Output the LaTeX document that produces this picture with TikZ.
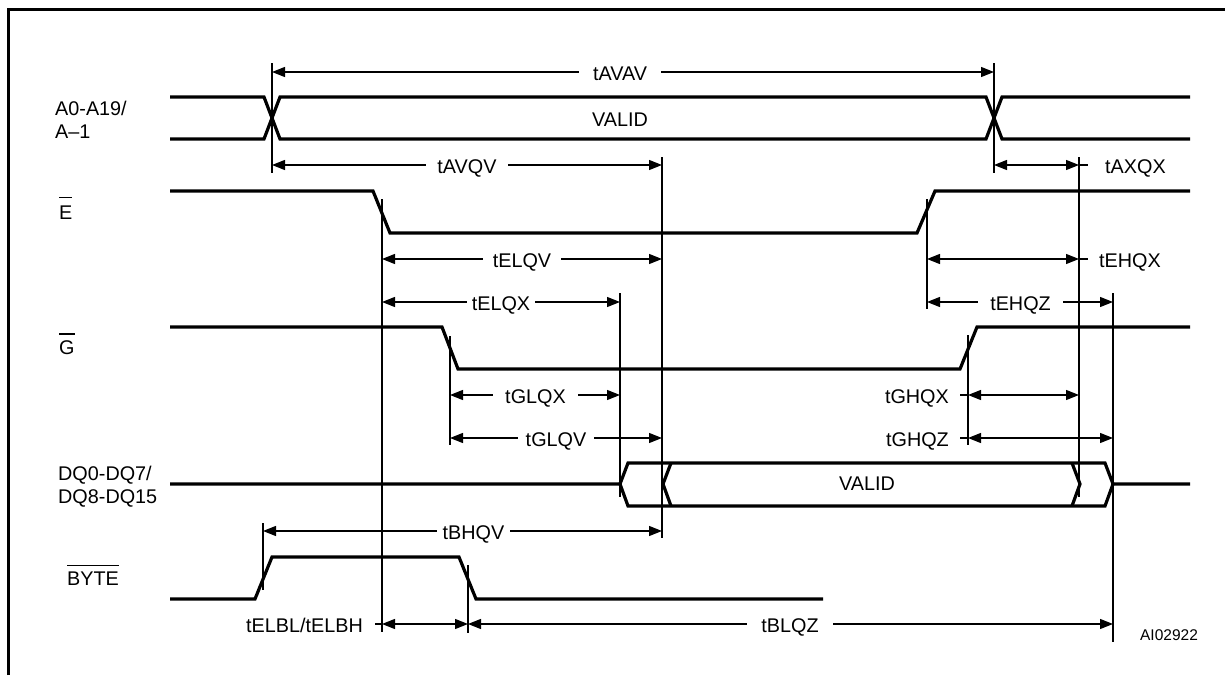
\documentclass[tikz,border=0pt]{standalone}
\usepackage{fontspec}
\setmainfont{Liberation Sans}
\usetikzlibrary{arrows.meta}
\newcommand\ovbar[2]{\vbox{\hrule height 1.4pt\kern #1\hbox{#2}}}
\begin{document}
\begin{tikzpicture}[x=1pt,y=-1pt,
  sig/.style={line width=3.2pt, line join=miter, line cap=butt},
  ext/.style={line width=1.3pt},
  dimline/.style={line width=1.3pt, {Triangle[length=13pt,width=10pt]}-{Triangle[length=13pt,width=10pt]}},
  txt/.style={font=\fontsize{19.8}{23}\selectfont, inner sep=0pt},
  dlbl/.style={txt, fill=white, inner xsep=10pt, inner ysep=1.5pt, text height=14.2pt, text depth=0pt, yshift=-1pt},
  slbl/.style={txt, text height=14.2pt, text depth=0pt, yshift=-1pt},
]
\useasboundingbox (0,0) rectangle (1225,675);
% frame
\draw[line width=3pt] (8.5,675) -- (8.5,9.5) -- (1225,9.5);

% time reference lines
\draw[ext] (272,63) -- (272,173);
\draw[ext] (994,63) -- (994,173);
\draw[ext] (662,157) -- (662,538);
\draw[ext] (1079,157) -- (1079,497);
\draw[ext] (382,199) -- (382,632);
\draw[ext] (927,199) -- (927,309);
\draw[ext] (620,293) -- (620,497);
\draw[ext] (1113,293) -- (1113,642);
\draw[ext] (450,336) -- (450,445);
\draw[ext] (968,335) -- (968,445);
\draw[ext] (263,523) -- (263,590);
\draw[ext] (468,565) -- (468,633);

% signal names
\node[txt, anchor=base west] (nA1) at (55,115) {A0-A19/};
\node[txt, anchor=base west] (nA2) at (55,138) {A–1};
\node[txt, anchor=base west] (nE) at (59,219) {\ovbar{7pt}{E}};
\node[txt, anchor=base west] (nG) at (59,354.5) {\ovbar{6pt}{G}};
\node[txt, anchor=base west] (nD1) at (58,480) {DQ0-DQ7/};
\node[txt, anchor=base west] (nD2) at (58,503) {DQ8-DQ15};
\node[txt, anchor=base west] (nB) at (67,585) {\ovbar{5pt}{BYTE}};

% address
\draw[sig] (170,97) -- (264,97) -- (280,139) -- (986,139) -- (1002,97) -- (1190,97);
\draw[sig] (170,139) -- (264,139) -- (280,97) -- (986,97) -- (1002,139) -- (1190,139);
\node[txt, anchor=base] (va) at (620,126.5) {VALID};
% E
\draw[sig] (170,191) -- (373,191) -- (390,233) -- (917,233) -- (935,191) -- (1190,191);
% G
\draw[sig] (170,327) -- (442,327) -- (458,369) -- (960,369) -- (977,327) -- (1190,327);
% DQ
\draw[sig] (170,484) -- (620,484) -- (628,463) -- (1105,463) -- (1113,484) -- (1190,484);
\draw[sig] (620,484) -- (628,506) -- (1105,506) -- (1113,484);
\draw[sig] (671,463) -- (663,484) -- (671,506);
\draw[sig] (1072,463) -- (1080,484) -- (1072,506);
\node[txt, anchor=base] (vd) at (867,490.5) {VALID};
% BYTE
\draw[sig] (170,599) -- (255,599) -- (272,557) -- (459,557) -- (476,599) -- (823,599);

% timing dimensions
\draw[dimline] (272,72) -- (994,72);
\node[dlbl, inner xsep=14pt] (l1) at (620,72) {tAVAV};
\draw[dimline] (272,165) -- (662,165);
\node[dlbl, inner xsep=11pt] (l2) at (467,165) {tAVQV};
\draw[dimline] (994,165) -- (1079,165);
\draw[ext] (1079,165) -- (1088,165);
\node[slbl, anchor=west] (l3) at (1105,165) {tAXQX};
\draw[dimline] (382,259) -- (662,259);
\node[dlbl] (l4) at (522,259) {tELQV};
\draw[dimline] (927,259) -- (1079,259);
\draw[ext] (1079,259) -- (1088,259);
\node[slbl, anchor=west] (l5) at (1099,259) {tEHQX};
\draw[dimline] (382,302) -- (620,302);
\node[dlbl, inner xsep=5pt] (l6) at (501,302) {tELQX};
\draw[dimline] (927,302) -- (1113,302);
\node[dlbl, inner xsep=12pt] (l7) at (1020.5,302) {tEHQZ};
\draw[dimline] (450,395) -- (620,395);
\node[dlbl, inner xsep=12pt] (l8) at (535.5,395) {tGLQX};
\draw[dimline] (968,395) -- (1079,395);
\draw[ext] (960,395) -- (968,395);
\node[slbl, anchor=east] (l9) at (949,395) {tGHQX};
\draw[dimline] (450,438) -- (662,438);
\node[dlbl, inner xsep=8pt] (l10) at (556,438) {tGLQV};
\draw[dimline] (968,438) -- (1113,438);
\draw[ext] (960,438) -- (968,438);
\node[slbl, anchor=east] (l11) at (949,438) {tGHQZ};
\draw[dimline] (263,531) -- (662,531);
\node[dlbl, inner xsep=6pt] (l12) at (473.5,531) {tBHQV};
\draw[dimline] (382,624) -- (468,624);
\draw[ext] (375,624) -- (382,624);
\node[slbl, anchor=east] (l13) at (363,624) {tELBL/tELBH};
\draw[dimline] (468,624) -- (1113,624);
\node[dlbl, inner xsep=14pt] (l14) at (790,624) {tBLQZ};

\node[font=\fontsize{15.5}{18}\selectfont, inner sep=0pt, anchor=base] (id) at (1169,640) {AI02922};
\end{tikzpicture}
\end{document}
